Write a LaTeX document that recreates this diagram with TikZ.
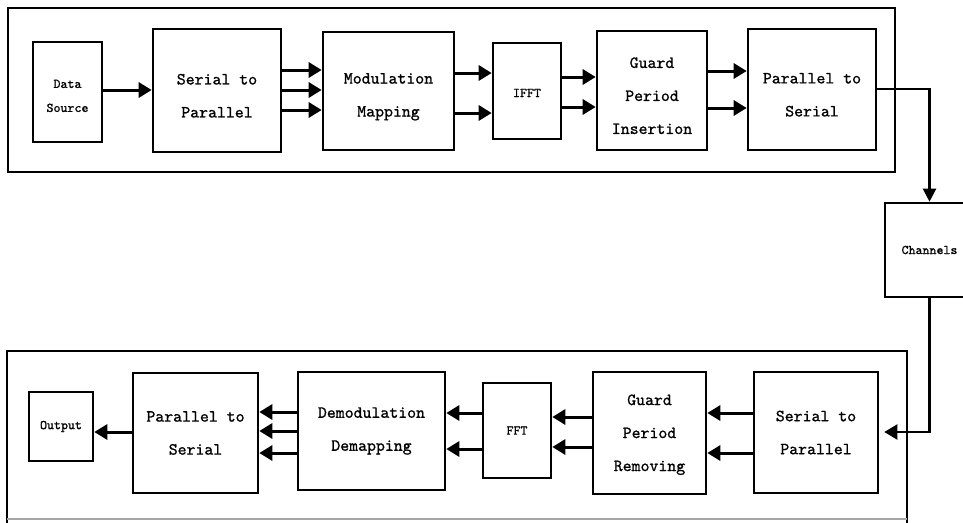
\documentclass[tikz,border=0pt]{standalone}
\usepackage{fontspec}
\newfontfamily\diagfont{lmmono10-regular.otf}[FakeBold=1]
\newcommand\lowr[1]{\rule{0pt}{#1}}
\usetikzlibrary{arrows.meta}
\begin{document}
\begin{tikzpicture}[x=1pt,y=-1pt,
 blk/.style={draw,line width=2.6pt,inner sep=0pt,align=center,font=\diagfont\fontsize{17}{33}\selectfont},
 sblk/.style={blk,font=\diagfont\fontsize{13.3}{24}\selectfont},
 arr/.style={line width=3pt,-{Triangle[length=13pt,width=15pt]}},
 wire/.style={line width=2.2pt},
 frame/.style={line width=2.4pt}]
\useasboundingbox (0,0) rectangle (963,522);
\clip (0,0) rectangle (963,522);
% frames
\draw[frame] (8,8) rectangle (895,172);
\draw[frame] (7,540) -- (7,351) -- (907,351) -- (907,540);
\draw[line width=1.2pt,black!35] (7,519) -- (907,519);
% top row
\node[sblk,minimum width=69pt,minimum height=100pt] (ds) at (67.5,92) {\lowr{16pt}Data\\Source};
\node[blk,minimum width=128pt,minimum height=123pt] (s2p) at (217,90.5) {\lowr{21pt}Serial to\\Parallel};
\node[blk,minimum width=131pt,minimum height=118pt] (mod) at (388.5,91) {\lowr{22pt}Modulation\\Mapping};
\node[sblk,minimum width=68pt,minimum height=96pt] (ifft) at (527,91) {\lowr{12pt}IFFT};
\node[blk,minimum width=110pt,minimum height=119pt] (gpi) at (652,90.5) {\lowr{21pt}Guard\\Period\\Insertion};
\node[blk,minimum width=128pt,minimum height=121pt] (p2s) at (812,89.5) {\lowr{21pt}Parallel to\\Serial};
\node[sblk,minimum width=89pt,minimum height=94pt] (ch) at (929.5,250) {Channels};
% bottom row
\node[blk,minimum width=124pt,minimum height=121pt] (bs2p) at (816,432.5) {Serial to\\Parallel};
\node[blk,minimum width=113pt,minimum height=122pt] (grm) at (649.5,433) {\lowr{14pt}Guard\\Period\\Removing};
\node[sblk,minimum width=68pt,minimum height=95pt] (fft) at (517,430.5) {FFT};
\node[blk,minimum width=147pt,minimum height=118pt] (dem) at (371.5,431) {Demodulation\\Demapping};
\node[blk,minimum width=125pt,minimum height=120pt] (bp2s) at (195.5,433) {Parallel to\\Serial};
\node[sblk,minimum width=64pt,minimum height=69pt] (out) at (61,426.5) {Output};
% top arrows
\draw[arr] (ds.east |- 0,90) -- (s2p.west |- 0,90);
\foreach \y in {70,90,110} \draw[arr] (s2p.east |- 0,\y) -- (mod.west |- 0,\y);
\foreach \y in {73,113} \draw[arr] (mod.east |- 0,\y) -- (ifft.west |- 0,\y);
\foreach \y in {77,107} \draw[arr] (ifft.east |- 0,\y) -- (gpi.west |- 0,\y);
\foreach \y in {71,108} \draw[arr] (gpi.east |- 0,\y) -- (p2s.west |- 0,\y);
\draw[wire,-{Triangle[length=13pt,width=13pt]}] (p2s.east |- 0,89) -| (ch.north);
\draw[wire,-{Triangle[length=13pt,width=15pt]},shorten >=5pt] (ch.south) |- (bs2p.east |- 0,432);
% bottom arrows
\foreach \y in {413,453} \draw[arr] (bs2p.west |- 0,\y) -- (grm.east |- 0,\y);
\foreach \y in {417,447} \draw[arr] (grm.west |- 0,\y) -- (fft.east |- 0,\y);
\foreach \y in {413,449} \draw[arr] (fft.west |- 0,\y) -- (dem.east |- 0,\y);
\foreach \y in {412,431,453} \draw[arr] (dem.west |- 0,\y) -- (bp2s.east |- 0,\y);
\draw[arr] (bp2s.west |- 0,432) -- (out.east |- 0,432);
\end{tikzpicture}
\end{document}
